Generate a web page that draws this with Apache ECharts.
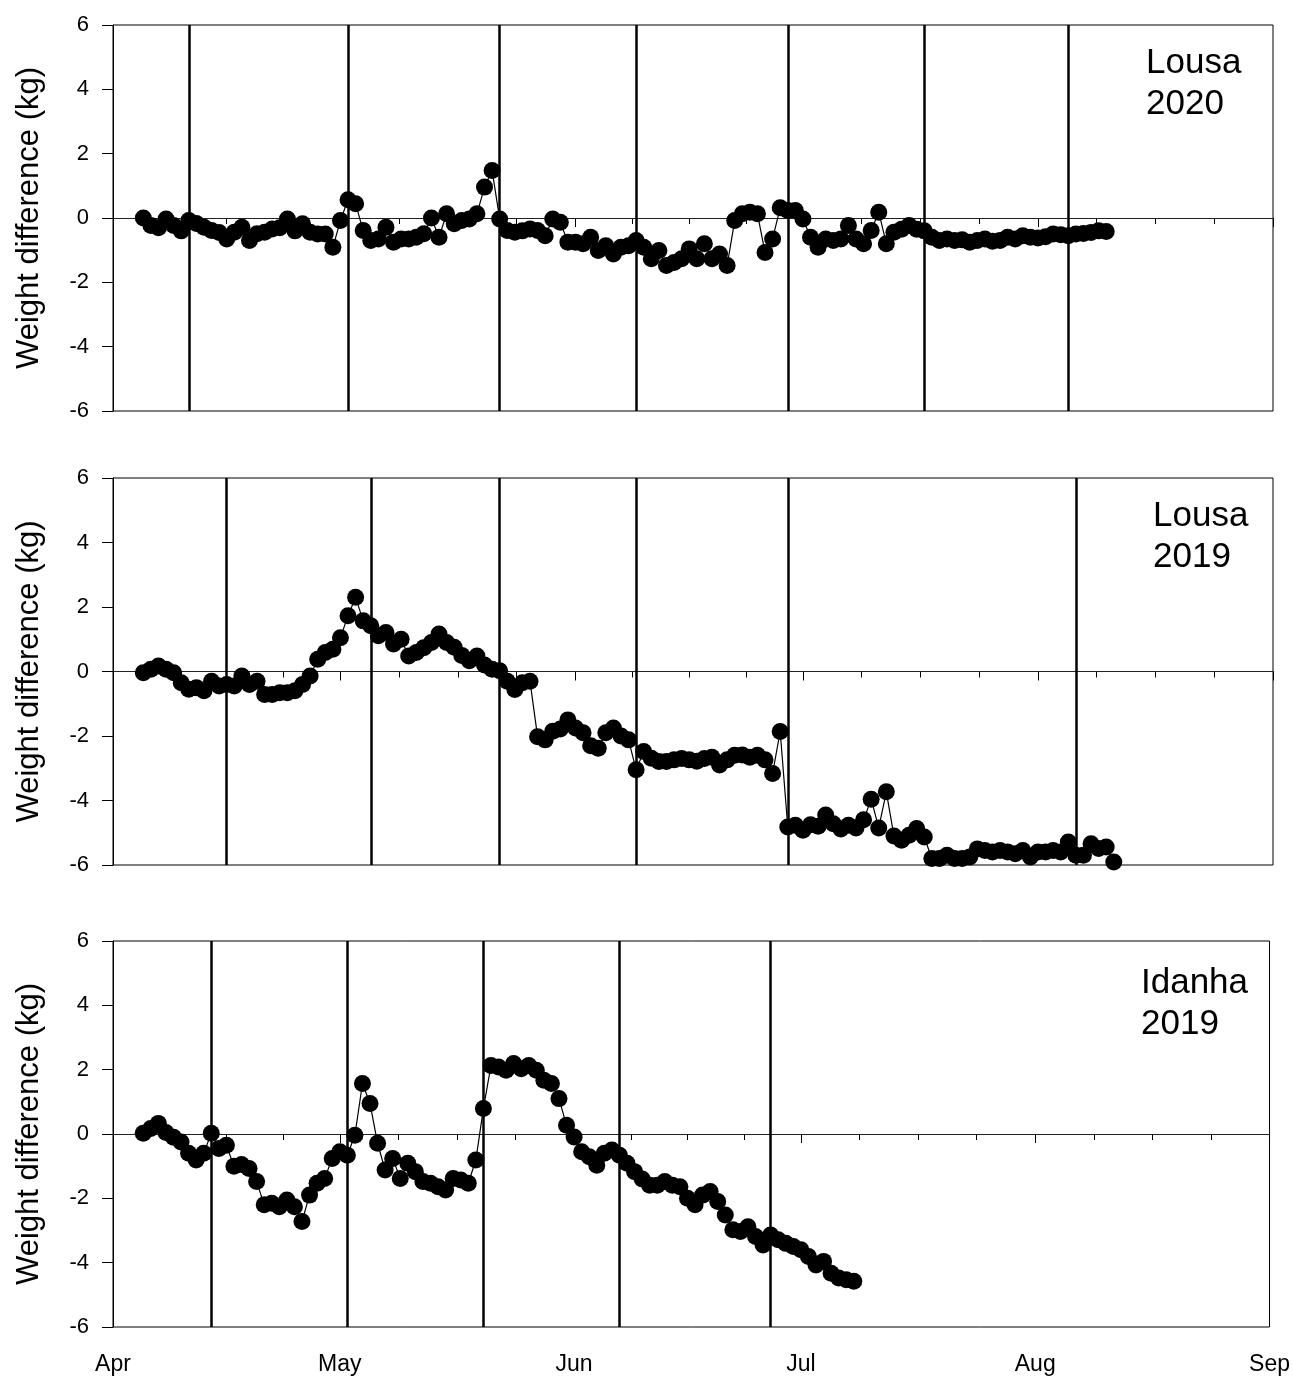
<!DOCTYPE html>
<html>
<head>
<meta charset="utf-8">
<script src="https://cdn.jsdelivr.net/npm/echarts@6/dist/echarts.min.js"></script>
<style>html,body{margin:0;padding:0;background:#fff}#chart{width:1293px;height:1376px}</style>
</head>
<body>
<div id="chart"></div>
<script>
// ---- data ----
const monthNames = ['Jan','Feb','Mar','Apr','May','Jun','Jul','Aug','Sep','Oct','Nov','Dec'];
const panelTitles = ['Lousa\n2020', 'Lousa\n2019', 'Idanha\n2019'];
const panelYears = [2020, 2019, 2019];
const seriesStartDates = ['2020-04-05', '2019-04-05', '2019-04-05']; // one value per day from this date

const lousa2020Values = [
  0.0, -0.23, -0.3, -0.03, -0.23, -0.4, -0.08, -0.17, -0.29, -0.39,
  -0.45, -0.65, -0.44, -0.29, -0.7, -0.49, -0.44, -0.34, -0.3, -0.03,
  -0.4, -0.18, -0.44, -0.5, -0.5, -0.91, -0.08, 0.57, 0.44, -0.39,
  -0.7, -0.65, -0.29, -0.75, -0.65, -0.65, -0.6, -0.49, 0.0, -0.6,
  0.13, -0.18, -0.08, -0.03, 0.13, 0.96, 1.48, -0.03, -0.39, -0.44,
  -0.4, -0.34, -0.39, -0.55, -0.03, -0.13, -0.75, -0.75, -0.8, -0.6,
  -1.01, -0.86, -1.12, -0.91, -0.86, -0.7, -0.91, -1.27, -1.01, -1.48,
  -1.38, -1.27, -0.96, -1.27, -0.8, -1.27, -1.12, -1.48, -0.08, 0.13,
  0.18, 0.13, -1.07, -0.65, 0.32, 0.23, 0.23, -0.03, -0.6, -0.91,
  -0.65, -0.7, -0.65, -0.23, -0.65, -0.8, -0.39, 0.18, -0.8, -0.44,
  -0.35, -0.23, -0.35, -0.4, -0.6, -0.7, -0.65, -0.7, -0.68, -0.75,
  -0.7, -0.65, -0.72, -0.7, -0.6, -0.65, -0.55, -0.6, -0.62, -0.58,
  -0.5, -0.52, -0.55, -0.5, -0.48, -0.45, -0.4, -0.42
];
const lousa2019Values = [
  -0.04, 0.07, 0.17, 0.07, -0.04, -0.35, -0.55, -0.5, -0.6, -0.3,
  -0.45, -0.4, -0.45, -0.14, -0.4, -0.3, -0.71, -0.71, -0.66, -0.66,
  -0.6, -0.4, -0.14, 0.38, 0.59, 0.69, 1.05, 1.73, 2.3, 1.57,
  1.42, 1.11, 1.21, 0.85, 1.0, 0.48, 0.59, 0.74, 0.9, 1.16,
  0.9, 0.75, 0.5, 0.33, 0.48, 0.2, 0.07, 0.02, -0.3, -0.56,
  -0.35, -0.3, -2.02, -2.12, -1.85, -1.78, -1.5, -1.75, -1.9, -2.3,
  -2.38, -1.9, -1.75, -2.0, -2.12, -3.05, -2.48, -2.69, -2.79, -2.79,
  -2.74, -2.7, -2.74, -2.78, -2.7, -2.66, -2.9, -2.74, -2.6, -2.59,
  -2.66, -2.6, -2.74, -3.16, -1.86, -4.82, -4.77, -4.92, -4.75, -4.8,
  -4.45, -4.72, -4.88, -4.77, -4.85, -4.6, -3.96, -4.85, -3.73, -5.1,
  -5.23, -5.08, -4.87, -5.13, -5.8, -5.8, -5.7, -5.8, -5.8, -5.75,
  -5.5, -5.55, -5.6, -5.55, -5.6, -5.65, -5.55, -5.75, -5.6, -5.6,
  -5.55, -5.6, -5.29, -5.7, -5.7, -5.34, -5.49, -5.44, -5.91
];
const idanha2019Values = [
  0.02, 0.17, 0.33, 0.05, -0.1, -0.25, -0.6, -0.81, -0.6, 0.02,
  -0.45, -0.35, -1.0, -0.95, -1.07, -1.48, -2.2, -2.15, -2.26, -2.05,
  -2.26, -2.72, -1.9, -1.53, -1.38, -0.76, -0.55, -0.66, -0.04, 1.57,
  0.95, -0.29, -1.12, -0.76, -1.38, -0.91, -1.17, -1.48, -1.53, -1.64,
  -1.74, -1.38, -1.43, -1.53, -0.81, 0.79, 2.13, 2.08, 1.98, 2.19,
  2.03, 2.13, 1.98, 1.67, 1.57, 1.1, 0.27, -0.09, -0.55, -0.71,
  -0.97, -0.6, -0.5, -0.66, -0.91, -1.17, -1.4, -1.59, -1.59, -1.48,
  -1.59, -1.64, -2.0, -2.2, -1.9, -1.79, -2.1, -2.52, -2.98, -3.03,
  -2.88, -3.19, -3.45, -3.14, -3.29, -3.4, -3.5, -3.6, -3.81, -4.07,
  -3.96, -4.33, -4.48, -4.53, -4.58
];
const lousa2020EventDates = ['2020-04-11', '2020-05-02', '2020-05-22', '2020-06-09', '2020-06-29', '2020-07-17', '2020-08-05'];
const lousa2019EventDates = ['2019-04-16', '2019-05-05', '2019-05-22', '2019-06-09', '2019-06-29', '2019-08-06'];
const idanha2019EventDates = ['2019-04-14', '2019-05-02', '2019-05-20', '2019-06-07', '2019-06-27'];

const yTicks = { min: -6, max: 6, interval: 2 };

// ---- build ----
function parseLocal(s) { const p = s.split('-').map(Number); return new Date(p[0], p[1] - 1, p[2]); }
function daily(startStr, values) {
  const s = parseLocal(startStr);
  return values.map((v, i) => [new Date(s.getFullYear(), s.getMonth(), s.getDate() + i).getTime(), v]);
}
const allValues = [lousa2020Values, lousa2019Values, idanha2019Values];
const allEvents = [lousa2020EventDates, lousa2019EventDates, idanha2019EventDates];

const FONT = 'Liberation Sans';
const grids = [
  { left: 113, top: 25, width: 1160, height: 386 },
  { left: 113, top: 478, width: 1160, height: 387 },
  { left: 113, top: 941, width: 1160, height: 388 }
];
const titlePos = [{ left: 1141, top: 38 }, { left: 1148, top: 491 }, { left: 1136, top: 958 }];

const option = {
  animation: false,
  backgroundColor: '#fff',
  title: [], grid: [], xAxis: [], yAxis: [], series: []
};

for (let i = 0; i < 3; i++) {
  option.grid.push(Object.assign({ show: true, borderColor: '#000', borderWidth: 1, containLabel: false }, grids[i]));
  option.title.push({
    text: panelTitles[i], left: titlePos[i].left, top: titlePos[i].top,
    textStyle: { fontFamily: FONT, fontSize: 35, fontWeight: 'normal', color: '#000', lineHeight: 41 }
  });
  const y = panelYears[i];
  option.xAxis.push({
    type: 'time', gridIndex: i,
    min: new Date(y, 3, 1).getTime(), max: new Date(y, 8, 1).getTime(),
    minInterval: 28 * 86400000, maxInterval: 31 * 86400000,
    axisLine: { show: true, lineStyle: { color: '#000', width: 1 } },
    axisTick: { show: true, inside: false, length: 9, lineStyle: { color: '#000', width: 1 } },
    minorTick: { show: true, splitNumber: 4, length: 6, lineStyle: { color: '#000', width: 1 } },
    splitLine: { show: false },
    axisLabel: {
      show: i === 2, margin: 26, color: '#000', fontFamily: FONT, fontSize: 23,
      showMinLabel: true, showMaxLabel: true, hideOverlap: false,
      formatter: v => monthNames[new Date(v).getMonth()]
    }
  });
  option.yAxis.push({
    type: 'value', gridIndex: i, min: yTicks.min, max: yTicks.max, interval: yTicks.interval,
    name: 'Weight difference (kg)', nameLocation: 'middle', nameGap: 68, nameRotate: 90,
    nameTextStyle: { fontFamily: FONT, fontSize: 31, color: '#000' },
    axisLine: { show: true, lineStyle: { color: '#000', width: 1 } },
    axisTick: { show: true, inside: false, length: 11, lineStyle: { color: '#000' } },
    splitLine: { show: false },
    axisLabel: { color: '#000', fontFamily: FONT, fontSize: 22, margin: 24 }
  });
  option.series.push({
    type: 'line', xAxisIndex: i, yAxisIndex: i,
    data: daily(seriesStartDates[i], allValues[i]),
    symbol: 'circle', symbolSize: 17, showSymbol: true,
    itemStyle: { color: '#000' },
    lineStyle: { color: '#000', width: 1.2 },
    z: 5,
    markLine: {
      silent: true, symbol: 'none', animation: false,
      label: { show: false },
      data: [{ yAxis: 0, lineStyle: { color: '#222', width: 1, type: 'solid' } }]
        .concat(allEvents[i].map(d => ({ xAxis: parseLocal(d).getTime(), lineStyle: { color: '#000', width: 2.5, type: 'solid' } })))
    }
  });
}

const chart = echarts.init(document.getElementById('chart'), null, { renderer: 'canvas' });
chart.setOption(option);
</script>
</body>
</html>
